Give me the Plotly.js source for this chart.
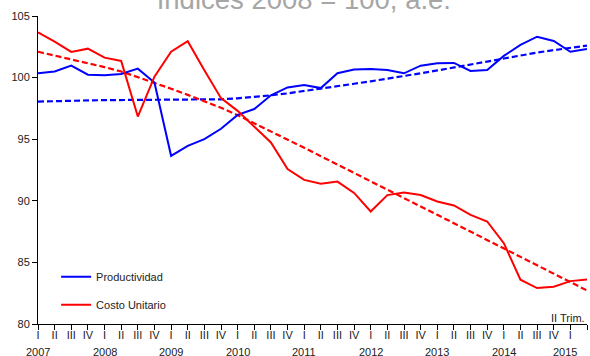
<!DOCTYPE html>
<html>
<head>
<meta charset="utf-8">
<script src="https://cdn.plot.ly/plotly-3.0.1.min.js"></script>
<style>
  html, body { margin: 0; padding: 0; background: #fff; }
  #chart { width: 590px; height: 356px; }
</style>
</head>
<body>
<div id="chart"></div>
<script>
// Quarterly index, 2007-I to 2015-II (34 quarters)
const years = [2007, 2008, 2009, 2010, 2011, 2012, 2013, 2014, 2015];
const quarterNames = ["I", "II", "III", "IV"];
const lastYearQuarters = 2;

const productividad = [
  100.35, 100.5, 100.97, 100.24, 100.19, 100.3, 100.73, 99.6,
  93.65, 94.46, 95.0, 95.85, 96.97, 97.45, 98.56, 99.2,
  99.4, 99.15, 100.35, 100.65, 100.7, 100.62, 100.35, 100.97,
  101.16, 101.19, 100.54, 100.62, 101.76, 102.65, 103.32, 102.97,
  102.1, 102.32
];

const costoUnitario = [
  103.68, 102.92, 102.08, 102.35, 101.62, 101.35, 96.84, 100.08,
  102.1, 102.95, 100.6, 98.33, 97.3, 96.05, 94.74, 92.57,
  91.7, 91.39, 91.56, 90.64, 89.13, 90.46, 90.67, 90.47,
  89.95, 89.62, 88.85, 88.32, 86.56, 83.59, 82.92, 83.03,
  83.48, 83.62
];

// Trend curves
const tendProductividad = [
  98.05, 98.1, 98.13, 98.15, 98.17, 98.18, 98.19, 98.19,
  98.19, 98.19, 98.2, 98.24, 98.32, 98.43, 98.56, 98.72,
  98.9, 99.1, 99.3, 99.5, 99.7, 99.9, 100.12, 100.35,
  100.58, 100.8, 101.05, 101.3, 101.55, 101.8, 102.03, 102.23,
  102.42, 102.6
];

const tendCosto = [
  102.1, 101.8, 101.5, 101.2, 100.85, 100.5, 100.05, 99.6,
  99.1, 98.6, 98.1, 97.55, 96.95, 96.3, 95.65, 94.98,
  94.3, 93.62, 92.95, 92.27, 91.58, 90.9, 90.22, 89.54,
  88.86, 88.18, 87.5, 86.82, 86.13, 85.45, 84.77, 84.1,
  83.4, 82.72
];

// Quarter axis: roman numeral per quarter, year written under its first quarter
const xIdx = [];
const tickText = [];
const yearPos = [];
years.forEach((yr, yi) => {
  const nq = (yi === years.length - 1) ? lastYearQuarters : 4;
  yearPos.push(xIdx.length);
  for (let q = 0; q < nq; q++) {
    xIdx.push(xIdx.length);
    tickText.push(quarterNames[q]);
  }
});

const BLUE = "#0000ff";
const RED = "#ff0000";
const FONT = "Liberation Sans, Arial, sans-serif";
const TXT = "#222";

const traces = [
  {
    x: xIdx, y: tendProductividad, type: "scatter", mode: "lines",
    line: { color: BLUE, width: 2.2, dash: "6px,3px" },
    showlegend: false, hoverinfo: "skip"
  },
  {
    x: xIdx, y: tendCosto, type: "scatter", mode: "lines",
    line: { color: RED, width: 2.2, dash: "6px,3px" },
    showlegend: false, hoverinfo: "skip"
  },
  {
    x: xIdx, y: productividad, type: "scatter", mode: "lines",
    name: "Productividad", legendgroup: "a",
    line: { color: BLUE, width: 2 }
  },
  {
    x: xIdx, y: costoUnitario, type: "scatter", mode: "lines",
    name: "Costo Unitario", legendgroup: "b",
    line: { color: RED, width: 2 }
  }
];

const yearLabels = years.map((yr, i) => ({
  text: String(yr), xref: "x", yref: "paper",
  x: yearPos[i], xanchor: "center",
  xshift: i === years.length - 1 ? -5 : 0,
  y: -0.09, yanchor: "middle",
  showarrow: false, font: { family: FONT, size: 11, color: TXT }
}));

const layout = {
  width: 590, height: 356,
  margin: { l: 38, r: 3, t: 16, b: 32 },
  paper_bgcolor: "#fff", plot_bgcolor: "#fff",
  font: { family: FONT, size: 11, color: TXT },
  title: {
    text: "Indices 2008 = 100, a.e.",
    font: { family: FONT, size: 27.5, color: "#a6a6a6" },
    xref: "container", x: 0.515, xanchor: "center",
    yref: "container", y: 1 - 9 / 356, yanchor: "bottom"
  },
  xaxis: {
    range: [0, 33],
    tickmode: "array", tickvals: xIdx, ticktext: tickText,
    tickangle: 0,
    ticks: "outside", ticklen: 5, tickcolor: "#000", tickwidth: 1,
    ticklabelstandoff: -4,
    showline: true, linecolor: "#000", linewidth: 1,
    showgrid: false, zeroline: false,
    tickfont: { family: FONT, size: 11, color: TXT }
  },
  yaxis: {
    range: [80, 105], dtick: 5, tick0: 80,
    ticks: "outside", ticklen: 5, tickcolor: "#000", tickwidth: 1,
    showline: true, linecolor: "#000", linewidth: 1,
    showgrid: false, zeroline: false,
    tickfont: { family: FONT, size: 11, color: TXT }
  },
  showlegend: true,
  legend: {
    x: 0.033, xanchor: "left",
    y: 0.0155, yanchor: "bottom",
    bgcolor: "rgba(0,0,0,0)",
    traceorder: "grouped",
    tracegroupgap: 9,
    font: { family: FONT, size: 11, color: TXT }
  },
  annotations: [
    {
      text: "II Trim.", xref: "paper", yref: "paper",
      x: 1, xanchor: "right", y: 0.02, yanchor: "middle",
      showarrow: false, font: { family: FONT, size: 11, color: TXT }
    }
  ].concat(yearLabels)
};

Plotly.newPlot("chart", traces, layout, { staticPlot: true, displayModeBar: false });
</script>
</body>
</html>
